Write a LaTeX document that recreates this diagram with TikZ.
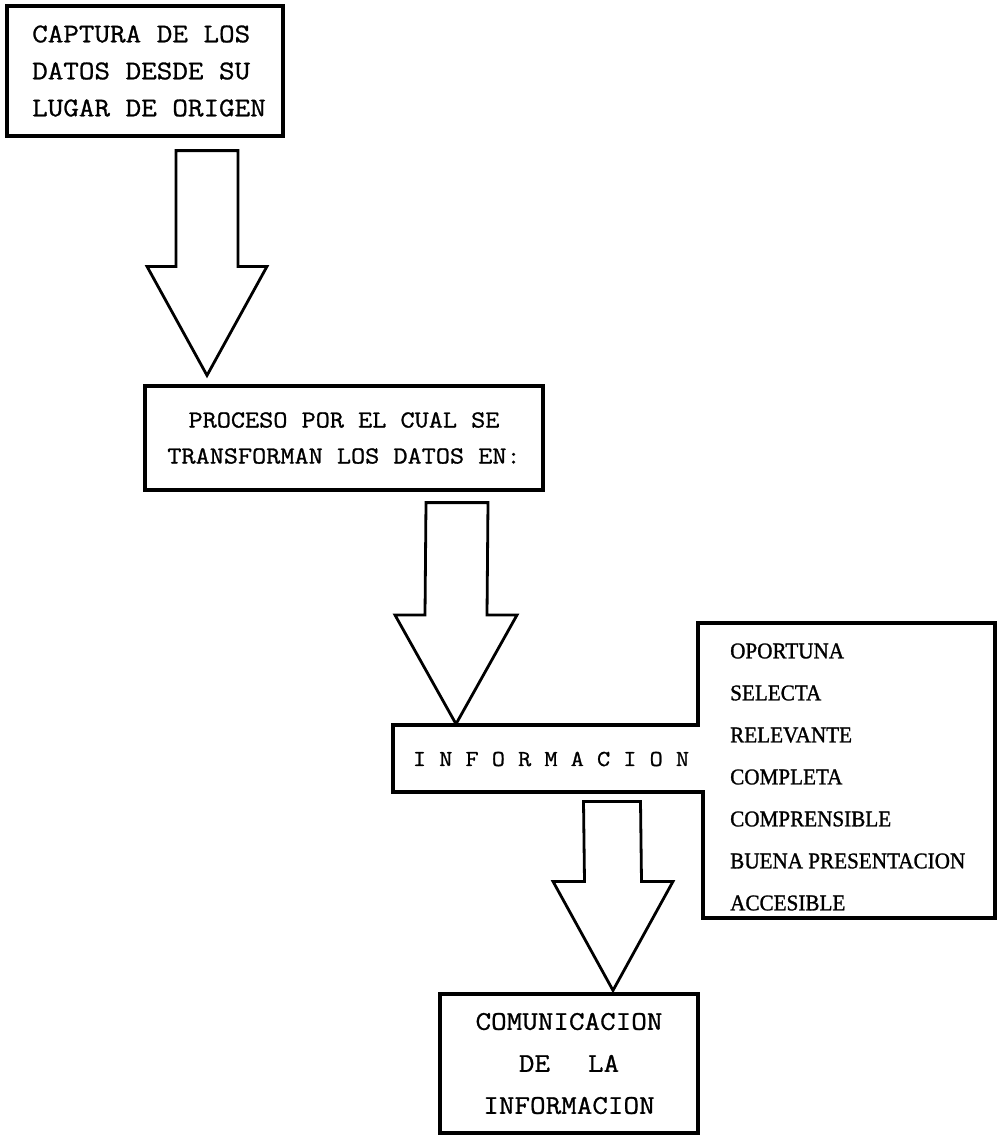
\documentclass[tikz,border=0pt]{standalone}
\usepackage{fontspec}
\newfontfamily\tw[FakeStretch=1.12,FakeBold=1]{Latin Modern Mono}
\newfontfamily\lst[FakeStretch=0.94,FakeBold=1.2]{Liberation Serif}
\usetikzlibrary{calc}
\newcommand\blockarr[5]{%
  \draw[arr] ($(#1)+(-#3,0)$) -- ($(#2)+(-#3,-#5)$) -- ($(#2)+(-#4,-#5)$) -- (#2)
    -- ($(#2)+(#4,-#5)$) -- ($(#2)+(#3,-#5)$) -- ($(#1)+(#3,0)$) -- cycle;}
\begin{document}
\begin{tikzpicture}[x=1pt,y=-1pt,
  box/.style={draw, line width=3.2pt, inner sep=0pt},
  arr/.style={draw, line width=2.8pt, line join=miter, fill=white},
]
\useasboundingbox (0,0) rectangle (1000,1136);

% boxes
\node[box, minimum width=276pt, minimum height=130pt, align=left,
  font=\tw\fontsize{27}{37}\selectfont] (cap) at (145,71)
  {\hspace*{8pt}CAPTURA DE LOS\\\hspace*{8pt}DATOS DESDE SU\\\hspace*{8pt}LUGAR DE ORIGEN};

\node[box, minimum width=398pt, minimum height=104pt, align=center,
  font=\tw\fontsize{24.5}{36}\selectfont] (proc) at (344,438)
  {PROCESO POR EL CUAL SE\\TRANSFORMAN LOS DATOS EN:};

\node[font=\tw\fontsize{22.8}{30}\selectfont] (info) at (551,759)
  {I N F O R M A C I O N};

\node[anchor=west, align=left, inner sep=0pt,
  font=\lst\fontsize{22.5}{42}\selectfont] (attr) at (730,777)
  {OPORTUNA\\SELECTA\\RELEVANTE\\COMPLETA\\COMPRENSIBLE\\BUENA PRESENTACION\\ACCESIBLE};

\node[box, minimum width=258pt, minimum height=139pt, align=center,
  font=\tw\fontsize{27}{42}\selectfont] (com) at (569,1063.5)
  {COMUNICACION\\DE\hspace{38pt}LA\\INFORMACION};

% combined outline of INFORMACION and its attributes
\draw[line width=3.2pt] (393,725) -- (698,725) -- (698,623) -- (995,623) -- (995,918)
  -- (703,918) -- (703,792) -- (393,792) -- cycle;

% block arrows
\coordinate (a1s) at ($(cap.south)+(62,13)$);
\coordinate (a1e) at ($(proc.north)+(-137,-9)$);
\coordinate (a2s) at ($(proc.south)+(113,11)$);
\coordinate (a2e) at ($(info)+(-95,-35)$);
\coordinate (a3s) at ($(com.north)+(43,-191)$);
\coordinate (a3e) at ($(com.north)+(44,-2)$);
\blockarr{a1s}{a1e}{31}{60}{109}
\blockarr{a2s}{a2e}{31}{61}{109}
\blockarr{a3s}{a3e}{28.5}{60}{109}
\end{tikzpicture}
\end{document}
